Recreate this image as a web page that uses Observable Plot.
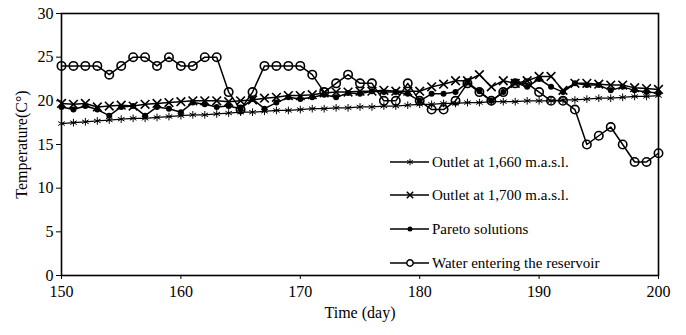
<!DOCTYPE html>
<html>
<head>
<meta charset="utf-8">
<script src="https://cdn.jsdelivr.net/npm/d3@7"></script>
<script src="https://cdn.jsdelivr.net/npm/@observablehq/plot@0.6"></script>
<style>
  html, body { margin: 0; padding: 0; background: white; }
  #chart { position: relative; width: 686px; height: 335px; }
</style>
</head>
<body>
<div id="chart"></div>
<script>
const days = [150,151,152,153,154,155,156,157,158,159,160,161,162,163,164,165,166,167,168,169,170,
  171,172,173,174,175,176,177,178,179,180,181,182,183,184,185,186,187,188,189,190,
  191,192,193,194,195,196,197,198,199,200];

const outlet1660 = [17.4,17.5,17.6,17.7,17.8,17.9,18.0,18.0,18.1,18.2,18.3,18.4,18.4,18.5,18.6,18.7,18.7,18.8,18.9,18.9,19.0,
  19.1,19.1,19.2,19.2,19.3,19.3,19.4,19.4,19.5,19.6,19.6,19.7,19.7,19.8,19.8,19.9,19.9,19.9,20.0,20.0,
  20.0,20.1,20.1,20.2,20.3,20.3,20.4,20.5,20.5,20.6];

const outlet1700 = [19.7,19.6,19.7,19.3,19.4,19.5,19.4,19.6,19.7,19.8,19.9,20.0,20.0,20.0,19.9,20.0,20.1,20.3,20.4,20.6,20.6,
  20.7,20.9,21.0,21.0,21.1,21.1,21.2,21.1,21.1,21.1,21.6,21.9,22.3,22.3,23.0,21.6,22.3,22.0,22.3,22.8,
  22.8,21.2,22.0,22.0,21.9,21.8,21.8,21.5,21.4,21.3];

const pareto = [19.3,19.0,19.4,19.0,18.3,19.3,19.4,18.3,19.3,19.1,18.7,19.8,19.6,19.3,19.4,19.1,20.2,19.1,19.8,20.4,20.2,
  20.4,20.7,20.4,20.9,20.8,21.1,21.0,21.0,20.8,20.0,20.8,20.8,21.0,22.1,21.1,20.0,21.0,22.1,21.6,22.5,
  21.6,21.0,22.0,21.8,21.8,21.2,21.6,21.2,21.0,20.9];

const waterIn = [24,24,24,24,23,24,25,25,24,25,24,24,25,25,21,19,21,24,24,24,24,
  23,21,22,23,22,22,20,20,22,20,19,19,20,22,21,20,21,22,22,21,
  20,20,19,15,16,17,15,13,13,14];

const seriesNames = ["Outlet at 1,660 m.a.s.l.", "Outlet at 1,700 m.a.s.l.", "Pareto solutions", "Water entering the reservoir"];
const xTicks = [150,160,170,180,190,200];
const yTicks = [0,5,10,15,20,25,30];

const seriesValues = [outlet1660, outlet1700, pareto, waterIn];
const tables = seriesValues.map((vals, k) => days.map((d, i) => ({day: d, temp: vals[i], series: seriesNames[k]})));

const font = "'Liberation Serif', 'Times New Roman', serif";

const plot = Plot.plot({
  width: 686,
  height: 335,
  marginLeft: 61,
  marginRight: 28,
  marginTop: 13,
  marginBottom: 60,
  style: {fontFamily: font, fontSize: "16px", color: "black", background: "white"},
  x: {domain: [150, 200]},
  y: {domain: [0, 30]},
  marks: [
    Plot.axisX({ticks: xTicks, tickSize: 4, tickPadding: 6, fontSize: 16, label: "Time (day)", labelAnchor: "center", labelArrow: "none", labelOffset: 42}),
    Plot.axisY({ticks: yTicks, tickSize: 5, tickPadding: 3, fontSize: 16, label: "Temperature(C°)", labelAnchor: "center", labelArrow: "none", labelOffset: 46}),
    Plot.line(tables[0], {x: "day", y: "temp", stroke: "black", strokeWidth: 1.3}),
    Plot.dot(tables[0], {x: "day", y: "temp", symbol: "asterisk", r: 3.6, stroke: "black", strokeWidth: 1}),
    Plot.line(tables[1], {x: "day", y: "temp", stroke: "black", strokeWidth: 1.5}),
    Plot.dot(tables[1], {x: "day", y: "temp", symbol: "times", r: 4, stroke: "black", strokeWidth: 1.6}),
    Plot.line(tables[2], {x: "day", y: "temp", stroke: "black", strokeWidth: 1.5}),
    Plot.dot(tables[2], {x: "day", y: "temp", r: 3, fill: "black"}),
    Plot.line(tables[3], {x: "day", y: "temp", stroke: "black", strokeWidth: 1.5}),
    Plot.dot(tables[3], {x: "day", y: "temp", r: 4.2, fill: "none", stroke: "black", strokeWidth: 1.6}),
    Plot.frame({stroke: "black", strokeWidth: 1.6})
  ]
});

// Legend (drawn into the same SVG)
const svg = d3.select(plot);
const legend = svg.append("g")
  .style("font-family", font).style("font-size", "15px")
  .attr("text-anchor", "start");
const rows = [162, 195, 229, 263];
const sym = [
  {type: d3.symbolAsterisk, r: 3, fill: "none", sw: 1},
  {type: d3.symbolTimes, r: 3, fill: "none", sw: 1.5},
  {type: d3.symbolCircle, r: 2.5, fill: "black", sw: 0},
  {type: d3.symbolCircle, r: 3.2, fill: "white", sw: 1.5}
];
seriesNames.forEach((name, i) => {
  const y = rows[i];
  legend.append("line").attr("x1", 390).attr("x2", 429).attr("y1", y).attr("y2", y)
    .attr("stroke", "black").attr("stroke-width", 1.5);
  legend.append("path")
    .attr("d", d3.symbol(sym[i].type, sym[i].r * sym[i].r * Math.PI)())
    .attr("transform", `translate(410,${y})`)
    .attr("fill", sym[i].fill)
    .attr("stroke", sym[i].sw ? "black" : "none")
    .attr("stroke-width", sym[i].sw);
  legend.append("text").attr("x", 432).attr("y", y).attr("dy", "0.35em")
    .attr("text-anchor", "start").attr("fill", "black").text(name);
});

document.getElementById("chart").appendChild(plot);
</script>
</body>
</html>
